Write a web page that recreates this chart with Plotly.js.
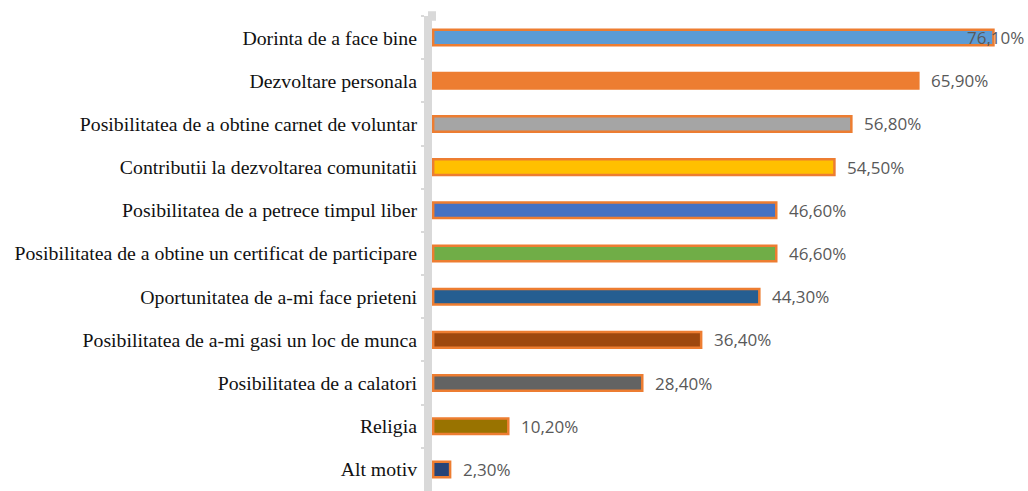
<!DOCTYPE html>
<html><head><meta charset="utf-8">
<script src="https://cdn.plot.ly/plotly-3.0.1.min.js"></script>
<style>html,body{margin:0;padding:0;background:#fff}#chart{width:1028px;height:491px}</style>
</head><body><div id="chart"></div>
<script>
const categories = [
  "Dorinta de a face bine",
  "Dezvoltare personala",
  "Posibilitatea de a obtine carnet de voluntar",
  "Contributii la dezvoltarea comunitatii",
  "Posibilitatea de a petrece timpul liber",
  "Posibilitatea de a obtine un certificat de participare",
  "Oportunitatea de a-mi face prieteni",
  "Posibilitatea de a-mi gasi un loc de munca",
  "Posibilitatea de a calatori",
  "Religia",
  "Alt motiv"
];
const values = [76.1, 65.9, 56.8, 54.5, 46.6, 46.6, 44.3, 36.4, 28.4, 10.2, 2.3];
const valueLabels = ["76,10%","65,90%","56,80%","54,50%","46,60%","46,60%","44,30%","36,40%","28,40%","10,20%","2,30%"];
const barColors = ["#5B9BD5","#ED7D31","#A5A5A5","#FFC000","#4472C4","#70AD47","#255E91","#9E480E","#636363","#997300","#264478"];

const xMin = -0.16, xMax = 80.25;

const annotations = values.map((v, i) => {
  const overflow = v > xMax - 6;
  return overflow ? {
    x: 1, xref: "paper", y: categories[i], yref: "y",
    text: valueLabels[i], showarrow: false, xanchor: "right", xshift: 2,
    font: {family: "Open Sans", size: 17, color: "#595959"}
  } : {
    x: v, xref: "x", y: categories[i], yref: "y",
    text: valueLabels[i], showarrow: false, xanchor: "left", xshift: 11,
    font: {family: "Open Sans", size: 17, color: "#595959"}
  };
});

const data = [{
  type: "bar", orientation: "h",
  x: values, y: categories,
  width: 0.36,
  marker: {color: barColors, line: {color: "#ED7D31", width: 2.5}},
  hoverinfo: "none"
}];

const layout = {
  width: 1028, height: 491,
  margin: {l: 432, r: 4, t: 16, b: 0, pad: 0},
  paper_bgcolor: "#fff", plot_bgcolor: "#fff",
  showlegend: false,
  xaxis: {range: [xMin, xMax], visible: false, showgrid: false, zeroline: false},
  yaxis: {
    type: "category", autorange: "reversed",
    showline: true, linecolor: "#D9D9D9", linewidth: 8,
    ticks: "outside", tickson: "boundaries", ticklen: 3, tickwidth: 2, tickcolor: "#D9D9D9",
    ticklabelstandoff: 3,
    showgrid: false, zeroline: false,
    tickfont: {family: "Liberation Serif", size: 19.8, color: "#111"}
  },
  shapes: [{
    type: "line", xref: "paper", yref: "paper", x0: 0, x1: 0, y0: 0.99, y1: 1.01,
    line: {color: "#D9D9D9", width: 8}, layer: "above"
  }],
  annotations: annotations
};

Plotly.newPlot("chart", data, layout, {displayModeBar: false, staticPlot: true});
</script></body></html>
